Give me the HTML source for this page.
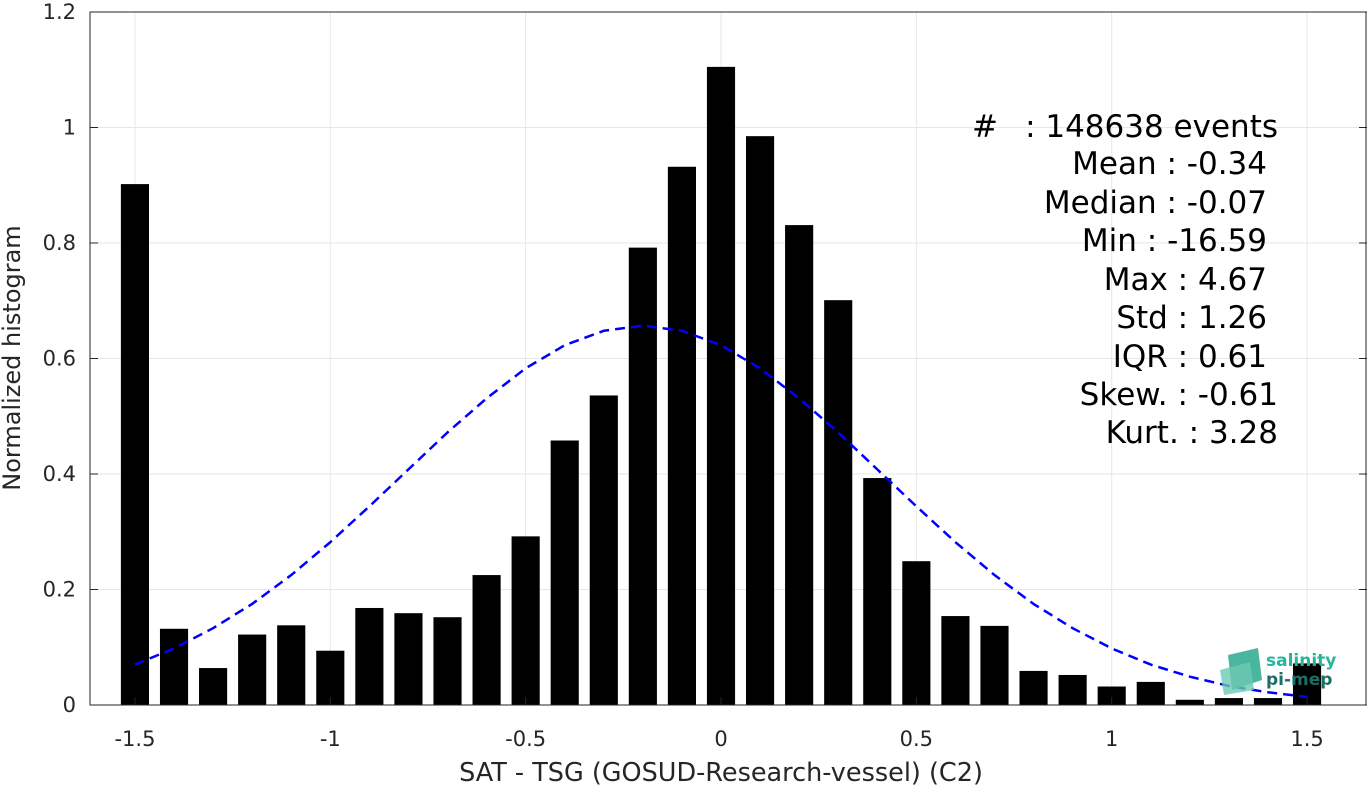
<!DOCTYPE html>
<html><head><meta charset="utf-8">
<style>
body{margin:0;background:#fff;}
svg{display:block;font-family:"DejaVu Sans","Liberation Sans",sans-serif;}
</style></head>
<body>
<svg id="chart" width="1367" height="785">
<g id="grid"></g>
<g id="bars"></g>
<polyline id="fit" fill="none" stroke="#0000ff" stroke-width="2.5" stroke-dasharray="10,6"/>
<g id="axes"></g>
<text x="721" y="781" font-size="25.5" text-anchor="middle" fill="#262626">SAT - TSG (GOSUD-Research-vessel) (C2)</text>
<text transform="translate(20,358) rotate(-90)" font-size="24" text-anchor="middle" fill="#262626">Normalized histogram</text>
<g font-size="31" fill="#000" text-anchor="end">
<text x="972" y="137" text-anchor="start">#</text>
<text x="1278" y="137">: 148638 events</text>
<text x="1267" y="174">Mean : -0.34</text>
<text x="1267" y="213">Median : -0.07</text>
<text x="1267" y="251">Min : -16.59</text>
<text x="1267" y="290">Max : 4.67</text>
<text x="1267" y="328">Std : 1.26</text>
<text x="1267" y="367">IQR : 0.61</text>
<text x="1278" y="405">Skew. : -0.61</text>
<text x="1278" y="443">Kurt. : 3.28</text>
</g>
<g>
<path d="M1228 655 L1258 648 L1262 680 L1232 690 Z" fill="#2aa98f" opacity="0.85"/>
<path d="M1220 670 L1250 662 L1254 690 L1224 695 Z" fill="#6cc9b3" opacity="0.8"/>
<text x="1266" y="666" font-size="17" font-weight="bold" fill="#27b49a">salinity</text>
<text x="1266" y="685" font-size="17" font-weight="bold" fill="#1d6f63">pi-mep</text>
</g>
</svg>
<script>
const categories=[-1.5,-1.4,-1.3,-1.2,-1.1,-1.0,-0.9,-0.8,-0.7,-0.6,-0.5,-0.4,-0.3,-0.2,-0.1,0,0.1,0.2,0.3,0.4,0.5,0.6,0.7,0.8,0.9,1.0,1.1,1.2,1.3,1.4,1.5];
const values=[0.902,0.132,0.064,0.122,0.138,0.094,0.168,0.159,0.152,0.225,0.292,0.458,0.536,0.792,0.932,1.105,0.985,0.831,0.701,0.393,0.249,0.154,0.137,0.059,0.052,0.032,0.040,0.009,0.012,0.012,0.072];
const fitValues=[0.070,0.098,0.133,0.175,0.225,0.282,0.344,0.408,0.472,0.531,0.583,0.623,0.648,0.657,0.648,0.623,0.583,0.531,0.472,0.408,0.344,0.282,0.225,0.175,0.133,0.098,0.070,0.049,0.033,0.022,0.014];
const xTicks=[-1.5,-1,-0.5,0,0.5,1,1.5];
const xTickLabels=["-1.5","-1","-0.5","0","0.5","1","1.5"];
const yTicks=[0,0.2,0.4,0.6,0.8,1,1.2];
const yTickLabels=["0","0.2","0.4","0.6","0.8","1","1.2"];

const L=90,R=1367,T=12,B=705;
const sx=v=>721+v*390.7;
const sy=v=>705-v*577.5;
const NS="http://www.w3.org/2000/svg";
function mk(tag,attrs,parent){const e=document.createElementNS(NS,tag);for(const k in attrs)e.setAttribute(k,attrs[k]);parent.appendChild(e);return e;}
const grid=document.getElementById('grid'),bars=document.getElementById('bars'),axes=document.getElementById('axes');
xTicks.forEach((t,i)=>{
  const g=mk('line',{x1:sx(t),x2:sx(t),y1:T,y2:B,stroke:'#e6e6e6','stroke-width':1},grid);
  
  
  const tk=mk('line',{x1:sx(t),x2:sx(t),y1:B,y2:B-8,stroke:'#262626'},axes);
  
  
  const lb=mk('text',{x:sx(t),y:B+41,'font-size':21,'text-anchor':'middle',fill:'#262626'},axes);
  lb.textContent=xTickLabels[i];
  
  
});
yTicks.forEach((t,i)=>{
  const g=mk('line',{x1:L,x2:R,y1:sy(t),y2:sy(t),stroke:'#e6e6e6','stroke-width':1},grid);
  
  
  const tk=mk('line',{x1:L,x2:L+8,y1:sy(t),y2:sy(t),stroke:'#262626'},axes);
  
  
  const tk2=mk('line',{x1:R-8,x2:R,y1:sy(t),y2:sy(t),stroke:'#262626'},axes);
  
  
  const lb=mk('text',{x:L-14,y:sy(t)+7,'font-size':21,'text-anchor':'end',fill:'#262626'},axes);
  lb.textContent=yTickLabels[i];
  
  
});
const frame=mk('rect',{x:L,y:T,width:R-L-1,height:B-T,fill:'none',stroke:'#262626','stroke-width':1},axes);


const bw=0.072*390.7;
categories.forEach((c,i)=>{
  const r=mk('rect',{x:sx(c)-bw/2,y:sy(values[i]),width:bw,height:sy(0)-sy(values[i]),fill:'#000'},bars);
  
  
});
document.getElementById('fit').setAttribute('points',categories.map((c,i)=>sx(c)+','+sy(fitValues[i])).join(' '));
</script>
</body></html>
